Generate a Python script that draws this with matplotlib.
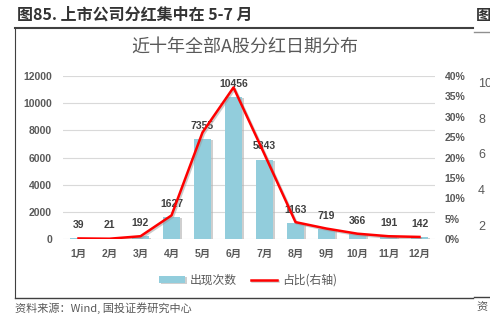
import matplotlib.pyplot as plt
import matplotlib.patheffects as pe
from matplotlib.lines import Line2D
from matplotlib.ticker import FuncFormatter

plt.rcParams['font.family'] = ['Liberation Sans', 'Noto Sans CJK SC']

# 数据
months = ['1月', '2月', '3月', '4月', '5月', '6月', '7月', '8月', '9月', '10月', '11月', '12月']
counts = [39, 21, 192, 1627, 7355, 10456, 5843, 1163, 719, 366, 191, 142]
share = [0.14, 0.07, 0.68, 5.79, 26.16, 37.19, 20.78, 4.14, 2.56, 1.30, 0.68, 0.51]  # %
left_ticks = [0, 2000, 4000, 6000, 8000, 10000, 12000]
right_ticks = [0, 5, 10, 15, 20, 25, 30, 35, 40]
side_labels = ['10', '8', '6', '4', '2']

W, H = 490, 327
fig = plt.figure(figsize=(4.9, 3.27), dpi=100)

def fx(px):
    return px / W

def fy(py):
    return 1 - py / H

ax = fig.add_axes([fx(63), fy(239), fx(435) - fx(63), fy(76) - fy(239)])
x = range(len(months))
bars = ax.bar(x, counts, width=0.55, color='#92CDDC', zorder=2,
              path_effects=[pe.SimplePatchShadow(offset=(1.5, -1), shadow_rgbFace='#b0b0b0', alpha=0.6), pe.Normal()])
ax.set_xlim(-0.5, 11.5)
ax.set_ylim(0, 12000)
ax.set_yticks(left_ticks)
ax.set_xticks(list(x))
ax.set_xticklabels(months)
ax.tick_params(axis='both', length=0, labelsize=7.5, labelcolor='#595959')
ax.tick_params(axis='y', pad=8)
ax.tick_params(axis='x', pad=7)
for lab in ax.get_xticklabels() + ax.get_yticklabels():
    lab.set_fontweight('bold')
ax.grid(axis='y', color='#d9d9d9', linewidth=0.8, zorder=0)
ax.set_axisbelow(True)
for s in ax.spines.values():
    s.set_visible(False)

for i, c in enumerate(counts):
    ax.annotate(str(c), (i, c), xytext=(0, 6), textcoords='offset points',
                ha='center', va='bottom', fontsize=7.5, fontweight='bold', color='#404040', zorder=5)

ax2 = ax.twinx()
line, = ax2.plot(list(x), [v / 100 for v in share], color='#ff0000', linewidth=1.8, zorder=4,
                 path_effects=[pe.SimpleLineShadow(offset=(1, -1), shadow_color='#999999', alpha=0.5), pe.Normal()])
ax2.set_ylim(0, 0.4)
ax2.set_yticks([t / 100 for t in right_ticks])
ax2.yaxis.set_major_formatter(FuncFormatter(lambda v, p: f'{v * 100:.0f}%'))
ax2.tick_params(axis='y', length=0, labelsize=7.5, labelcolor='#595959', pad=7)
for lab in ax2.get_yticklabels():
    lab.set_fontweight('bold')
for s in ax2.spines.values():
    s.set_visible(False)

leg = ax.legend([bars, line], ['出现次数', '占比(右轴)'], loc='center', ncol=2,
                bbox_to_anchor=(fx(248), fy(280)), bbox_transform=fig.transFigure,
                frameon=False, handlelength=2.2, handleheight=0.5,
                columnspacing=1.2, handletextpad=0.4,
                prop={'family': ['Noto Sans CJK SC'], 'size': 8.5})
for t in leg.get_texts():
    t.set_color('#595959')

fig.text(fx(245), fy(47), '近十年全部A股分红日期分布', ha='center', va='center',
         fontsize=13, color='#595959', family=['Noto Sans CJK SC'])

fig.text(fx(17), fy(15), '图85. 上市公司分红集中在 5-7 月', ha='left', va='center',
         fontsize=11.5, fontweight='bold', color='#333333', family=['Noto Sans CJK SC'])
fig.text(fx(476), fy(15), '图', ha='left', va='center',
         fontsize=11, fontweight='bold', color='#333333', family=['Noto Sans CJK SC'])
fig.text(fx(15), fy(308), '资料来源：Wind, 国投证券研究中心', ha='left', va='center',
         fontsize=8, style='italic', color='#595959', family=['Noto Sans CJK SC'])
fig.text(fx(476), fy(308), '资', ha='left', va='center',
         fontsize=8, color='#595959', family=['Noto Sans CJK SC'])

for k, s in enumerate(side_labels):
    fig.text(fx(478), fy(84 + k * 35.7), s, ha='left', va='center', fontsize=9, color='#595959')

fig.add_artist(Line2D([fx(15), fx(473)], [fy(27.5), fy(27.5)], color='#404040', linewidth=1.5))
fig.add_artist(Line2D([fx(15), fx(15)], [fy(28), fy(298)], color='#404040', linewidth=0.8))
fig.add_artist(Line2D([fx(15), fx(473)], [fy(298), fy(298)], color='#404040', linewidth=1))
fig.add_artist(Line2D([fx(474), fx(490)], [fy(32), fy(32)], color='#909090', linewidth=1))
fig.add_artist(Line2D([fx(474), fx(490)], [fy(297), fy(297)], color='#404040', linewidth=1))

fig.savefig('out.png', dpi=100)
